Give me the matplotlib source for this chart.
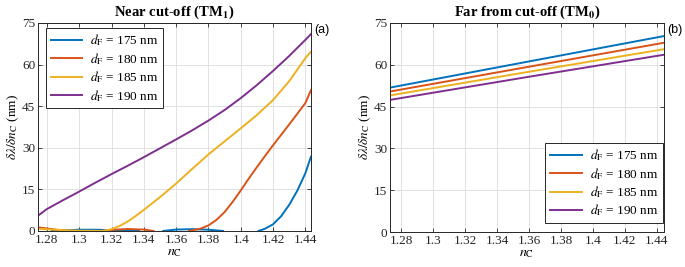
import numpy as np
import matplotlib
matplotlib.use("Agg")
import matplotlib.pyplot as plt

plt.rcParams.update({
    "font.family": "Liberation Serif",
    "mathtext.fontset": "stix",
    "font.size": 9,
    "axes.edgecolor": "#262626",
    "axes.linewidth": 0.7,
    "xtick.color": "#262626",
    "ytick.color": "#262626",
    "xtick.direction": "in",
    "ytick.direction": "in",
    "xtick.major.size": 3,
    "ytick.major.size": 3,
    "xtick.top": True,
    "ytick.right": True,
})

nan = np.nan
COLORS = ["#0072BD", "#D95319", "#EDB120", "#7E2F8E"]
LABELS = [r"$d_\mathrm{F}$ = 175 nm", r"$d_\mathrm{F}$ = 180 nm",
          r"$d_\mathrm{F}$ = 185 nm", r"$d_\mathrm{F}$ = 190 nm"]

# (a) near cut-off, TM1 -- NaN breaks the near-zero wiggles into pieces
n_a_175 = [1.283, 1.29, 1.30, 1.31, 1.32, 1.33, 1.337, nan,
           1.352, 1.36, 1.37, 1.38, 1.389, nan,
           1.411, 1.415, 1.42, 1.425, 1.43, 1.435, 1.44, 1.4435]
s_a_175 = [0.0, 0.2, 0.45, 0.45, 0.3, 0.15, 0.0, nan,
           0.0, 0.5, 0.65, 0.45, 0.0, nan,
           0.0, 0.8, 2.4, 5.3, 9.4, 14.5, 20.8, 26.8]

n_a_180 = [1.2745, 1.28, 1.285, 1.29, 1.295, nan,
           1.315, 1.32, 1.33, 1.34, 1.346, nan,
           1.368, 1.375, 1.38, 1.385, 1.39, 1.395, 1.40, 1.405, 1.41,
           1.415, 1.42, 1.43, 1.44, 1.4435]
s_a_180 = [1.3, 0.9, 0.5, 0.15, 0.0, nan,
           0.0, 0.4, 0.7, 0.5, 0.0, nan,
           0.0, 0.8, 2.0, 4.0, 6.8, 10.5, 14.6, 18.9, 23.0,
           27.0, 30.9, 38.4, 46.1, 50.8]

n_a_185 = [1.2745, 1.28, 1.29, 1.30, 1.31, 1.314, 1.32, 1.325, 1.33, 1.335,
           1.34, 1.35, 1.36, 1.37, 1.38, 1.39, 1.40, 1.41, 1.42, 1.43,
           1.44, 1.4435]
s_a_185 = [0.8, 0.6, 0.3, 0.1, 0.05, 0.0, 0.6, 1.8, 3.4, 5.4,
           7.6, 12.2, 17.1, 22.4, 27.6, 32.3, 37.0, 41.8, 47.2, 54.0,
           62.3, 64.7]

n_a_190 = [1.2745, 1.28, 1.29, 1.30, 1.31, 1.32, 1.33, 1.34, 1.35, 1.36,
           1.37, 1.38, 1.39, 1.40, 1.41, 1.42, 1.43, 1.44, 1.4435]
s_a_190 = [5.5, 7.9, 11.1, 14.2, 17.4, 20.5, 23.5, 26.6, 29.8, 33.0,
           36.3, 39.8, 43.6, 47.9, 52.6, 57.7, 63.1, 68.9, 71.0]

# (b) far from cut-off, TM0
n_b = [1.273, 1.36, 1.4445]
s_b_175 = [51.8, 61.2, 70.3]
s_b_180 = [50.4, 59.3, 67.9]
s_b_185 = [49.0, 57.5, 65.6]
s_b_190 = [47.4, 55.7, 63.6]

x_ticks = [1.28, 1.30, 1.32, 1.34, 1.36, 1.38, 1.40, 1.42, 1.44]
x_ticklabels = ["1.28", "1.3", "1.32", "1.34", "1.36", "1.38", "1.4", "1.42", "1.44"]
y_ticks = [0, 15, 30, 45, 60, 75]

fig = plt.figure(figsize=(6.85, 2.67), dpi=100)
ax_a = fig.add_axes([0.0555, 0.135, 0.3985, 0.779])
ax_b = fig.add_axes([0.5693, 0.131, 0.400, 0.783])

series_a = [(n_a_175, s_a_175), (n_a_180, s_a_180),
            (n_a_185, s_a_185), (n_a_190, s_a_190)]
series_b = [s_b_175, s_b_180, s_b_185, s_b_190]

for (n, s), c, lab in zip(series_a, COLORS, LABELS):
    ax_a.plot(n, s, color=c, lw=1.4, label=lab)
for s, c, lab in zip(series_b, COLORS, LABELS):
    ax_b.plot(n_b, s, color=c, lw=1.4, label=lab)

for ax, xl in ((ax_a, (1.2745, 1.4435)), (ax_b, (1.273, 1.4445))):
    ax.set_xlim(*xl)
    ax.set_ylim(0, 75)
    ax.set_xticks(x_ticks)
    ax.set_xticklabels(x_ticklabels)
    ax.set_yticks(y_ticks)
    ax.grid(True, color="#dcdcdc", lw=0.6)
    ax.set_axisbelow(True)
    ax.tick_params(labelsize=9.5, width=0.6, pad=2)
    ax.set_xlabel(r"$n_\mathrm{C}$", fontsize=10, labelpad=0)
    ax.set_ylabel(r"$\delta\lambda/\delta n_\mathrm{C}$ (nm)", fontsize=9.5, labelpad=1)

ax_a.set_title(r"Near cut-off (TM$_\mathbf{1}$)", fontsize=10.5, fontweight="bold", pad=5)
ax_b.set_title(r"Far from cut-off (TM$_\mathbf{0}$)", fontsize=10.5, fontweight="bold", pad=5)

ax_a.text(1.012, 0.965, "(a)", transform=ax_a.transAxes, family="Liberation Sans",
          fontsize=9, ha="left", va="center")
ax_b.text(1.012, 0.965, "(b)", transform=ax_b.transAxes, family="Liberation Sans",
          fontsize=9, ha="left", va="center")

leg_kw = dict(fancybox=False, edgecolor="#262626", framealpha=1, fontsize=9.5,
              handlelength=2.4, labelspacing=0.2, borderpad=0.35, handletextpad=0.6,
              borderaxespad=0)
leg_a = ax_a.legend(loc="upper left", bbox_to_anchor=(0.029, 0.976), **leg_kw)
leg_b = ax_b.legend(loc="lower right", bbox_to_anchor=(0.995, 0.043), **leg_kw)
for leg in (leg_a, leg_b):
    leg.get_frame().set_linewidth(0.7)

fig.savefig("out.png", dpi=100)
